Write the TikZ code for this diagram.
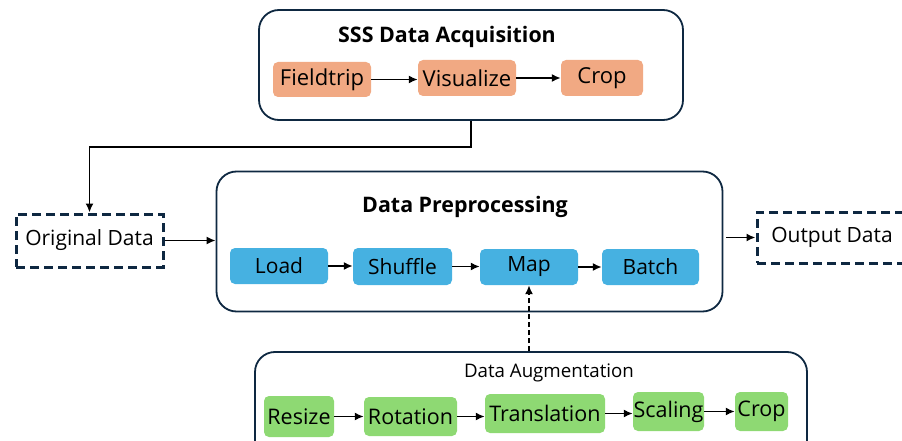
\documentclass[tikz,border=0pt]{standalone}
\usepackage{fontspec}
\setmainfont{Open Sans}
\usetikzlibrary{arrows.meta,positioning}
\definecolor{navy}{HTML}{0E2841}
\definecolor{orng}{HTML}{F1A983}
\definecolor{blu}{HTML}{46B1E1}
\definecolor{grn}{HTML}{8ED973}
\tikzset{
  group/.style={draw=navy,line width=1.8pt,rounded corners=20pt,inner sep=0pt},
  databox/.style={draw=navy,line width=3pt,dash pattern=on 9pt off 5pt,inner sep=0pt,font=\fontsize{21}{24}\selectfont},
  obox/.style={fill=orng,rounded corners=5pt,inner sep=0pt,font=\fontsize{22}{26}\selectfont},
  bbox/.style={fill=blu,rounded corners=5pt,inner sep=0pt,font=\fontsize{21}{25}\selectfont},
  gbox/.style={fill=grn,rounded corners=5pt,inner sep=0pt,font=\fontsize{21.5}{25}\selectfont},
  ttl/.style={font=\bfseries\fontsize{21.4}{25}\selectfont,inner sep=0pt},
  conn/.style={line width=1.7pt,-{Latex[length=9pt,width=8pt]}},
}
\begin{document}
\begin{tikzpicture}[x=1pt,y=-1pt]
\useasboundingbox (0,0) rectangle (902,441);
% groups
\node[group,minimum width=424pt,minimum height=110pt] (sss) at (471,65) {};
\node[group,minimum width=506pt,minimum height=140pt] (prep) at (469.5,241.5) {};
\node[group,minimum width=552pt,minimum height=110pt] (aug) at (531,407) {};
% titles
\node[ttl] (t1) at (447,37) {SSS Data Acquisition};
\node[ttl] (t2) at (465,207) {Data Preprocessing};
\node[inner sep=0pt,font=\fontsize{18.7}{22}\selectfont] (t3) at (549,373) {Data Augmentation};
% SSS boxes
\node[obox,minimum width=98pt,minimum height=35pt] (f) at (322,79.5) {Fieldtrip};
\node[obox,minimum width=98pt,minimum height=36pt] (v) at (467,78) {Visualize};
\node[obox,minimum width=82pt,minimum height=36pt] (c) at (602,78) {Crop};
\draw[conn] (f.east) -- (f.east -| v.west);
\draw[conn] (v.east) -- (v.east -| c.west);
% data boxes
\node[databox,minimum width=147pt,minimum height=53pt] (orig) at (89.5,240.5) {Original Data};
\node[databox,minimum width=160pt,minimum height=51pt] (out) at (837,237.5) {\hspace*{-10pt}Output Data};
% preprocessing
\node[bbox,minimum width=98pt,minimum height=36pt] (load) at (279,266) {Load};
\node[bbox,minimum width=99pt,minimum height=37pt] (shuf) at (402.5,266.5) {Shuffle};
\node[bbox,minimum width=98pt,minimum height=36pt] (map) at (529,267) {Map};
\node[bbox,minimum width=97pt,minimum height=36pt] (batch) at (650.5,267) {Batch};
\draw[conn] (load.east) -- (load.east -| shuf.west);
\draw[conn] (shuf.east) -- (shuf.east -| map.west);
\draw[conn] (map.east) -- (map.east -| batch.west);
% augmentation
\node[gbox,minimum width=70pt,minimum height=41pt] (rs) at (299,416.5) {Resize};
\node[gbox,minimum width=93pt,minimum height=39pt] (rt) at (410.5,416.5) {Rotation};
\node[gbox,minimum width=120pt,minimum height=39pt] (tr) at (545,413.5) {Translation};
\node[gbox,minimum width=71pt,minimum height=39pt] (sc) at (668.5,411.5) {Scaling};
\node[gbox,minimum width=53pt,minimum height=39pt] (cr) at (761.5,411.5) {Crop};
\draw[conn] (rs.east) -- (rs.east -| rt.west);
\draw[conn] (rt.east) -- (rt.east -| tr.west);
\draw[conn] (tr.east) -- (tr.east -| sc.west);
\draw[conn] (sc.east) -- (sc.east -| cr.west);
% connectors
\draw[conn] (sss.south) -- ++(0,26) -| (orig.north);
\draw[conn] (orig.east) -- (orig.east -| prep.west);
\draw[conn] ([xshift=3pt]prep.east |- out.west) -- (out.west);
\draw[conn,dash pattern=on 5pt off 3pt] (map.south |- aug.north) -- (map.south);
\end{tikzpicture}
\end{document}
